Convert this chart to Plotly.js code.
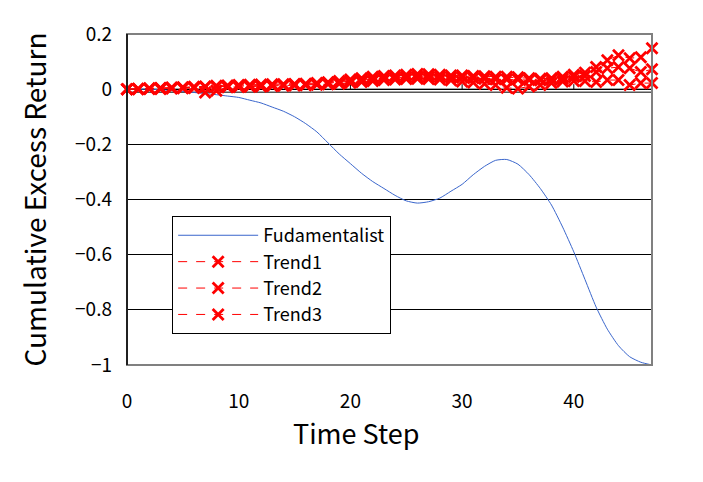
<!DOCTYPE html>
<html>
<head>
<meta charset="utf-8">
<script src="https://cdn.plot.ly/plotly-3.0.1.min.js"></script>
<style>html,body{margin:0;padding:0;background:#fff;}#chart{width:703px;height:482px;}</style>
</head>
<body>
<div id="chart"></div>
<script>
const steps = Array.from({length: 48}, (_, i) => i);
const seriesNames = ["Fudamentalist", "Trend1", "Trend2", "Trend3"];
const fundamentalist = [0, 0, 0, -0.002, -0.005, -0.008, -0.012, -0.016, -0.02, -0.025,
  -0.03, -0.04, -0.05, -0.065, -0.08, -0.1, -0.125, -0.155, -0.195, -0.235,
  -0.27, -0.305, -0.335, -0.36, -0.385, -0.405, -0.413, -0.408, -0.395, -0.37,
  -0.345, -0.31, -0.28, -0.258, -0.255, -0.272, -0.31, -0.36, -0.42, -0.5,
  -0.59, -0.69, -0.79, -0.87, -0.93, -0.97, -0.99, -1.0];
const trend1 = [0, 0.002, 0.003, 0.004, 0.006, 0.007, 0.009, 0.01, 0.012, 0.013,
  0.015, 0.016, 0.017, 0.018, 0.018, 0.019, 0.02, 0.022, 0.025, 0.03,
  0.035, 0.04, 0.045, 0.048, 0.05, 0.052, 0.055, 0.054, 0.052, 0.05,
  0.05, 0.048, 0.047, 0.045, 0.045, 0.043, 0.04, 0.038, 0.04, 0.045,
  0.052, 0.06, 0.08, 0.105, 0.123, 0.112, 0.116, 0.148];
const trend2 = [0, 0.001, 0.002, 0.003, 0.004, 0.005, 0.006, 0.008, 0.009, 0.01,
  0.011, 0.012, 0.013, 0.014, 0.015, 0.016, 0.017, 0.019, 0.022, 0.026,
  0.03, 0.034, 0.038, 0.04, 0.042, 0.044, 0.045, 0.045, 0.044, 0.043,
  0.042, 0.04, 0.038, 0.036, 0.035, 0.035, 0.033, 0.032, 0.034, 0.038,
  0.044, 0.048, 0.062, 0.076, 0.08, 0.076, 0.062, 0.072];
const trend3 = [0, 0, 0.001, 0.001, 0.002, 0.003, 0.004, -0.012, -0.006, 0.007,
  0.008, 0.009, 0.01, 0.011, 0.012, 0.013, 0.014, 0.016, 0.018, 0.02,
  0.023, 0.026, 0.03, 0.033, 0.035, 0.037, 0.038, 0.037, 0.035, 0.032,
  0.028, 0.024, 0.02, 0.015, 0.005, 0.002, 0.01, 0.015, 0.022, 0.028,
  0.03, 0.03, 0.026, 0.033, 0.033, 0.015, 0.022, 0.022];
const xTickVals = [0, 10, 20, 30, 40];
const yTickVals = [0.2, 0, -0.2, -0.4, -0.6, -0.8, -1];

const FONT = "Noto Sans CJK JP, Noto Sans, sans-serif";
const red = "#FF0000";
const trendStyle = {
  mode: "lines+markers",
  line: {color: red, width: 1, dash: "dash"},
  marker: {symbol: "x-thin", size: 11, color: red, line: {color: red, width: 2.8}},
  cliponaxis: false
};
const traces = [
  {x: steps, y: fundamentalist, name: seriesNames[0], mode: "lines",
   line: {color: "#3A66CC", width: 1, shape: "spline", smoothing: 0.6}},
  Object.assign({x: steps, y: trend1, name: seriesNames[1]}, trendStyle),
  Object.assign({x: steps, y: trend2, name: seriesNames[2]}, trendStyle),
  Object.assign({x: steps, y: trend3, name: seriesNames[3]}, trendStyle)
];

const shapes = [
  {type: "rect", xref: "paper", yref: "paper", x0: 0, x1: 1, y0: 0, y1: 1,
   line: {color: "#808080", width: 2}, layer: "above"},
  {type: "line", xref: "paper", yref: "paper", x0: 0, x1: 0, y0: 0, y1: 1,
   line: {color: "#000", width: 1.5}, layer: "above"},
  {type: "line", xref: "paper", yref: "y", x0: 0, x1: 1, y0: 0, y1: 0,
   ysizemode: "pixel", yanchor: 0, line: {color: "#000", width: 1}, layer: "below"},
  {type: "line", xref: "paper", yref: "y", x0: 0, x1: 1, y0: -3, y1: -3,
   ysizemode: "pixel", yanchor: 0, line: {color: "#000", width: 1}, layer: "below"}
];
xTickVals.forEach(v => {
  shapes.push({type: "line", xref: "x", yref: "y", x0: v, x1: v, y0: 0, y1: 5,
    ysizemode: "pixel", yanchor: 0, line: {color: "#000", width: 1}, layer: "below"});
});

const layout = {
  width: 703, height: 482,
  margin: {l: 127, r: 51, t: 34, b: 117},
  paper_bgcolor: "#fff", plot_bgcolor: "#fff",
  showlegend: true,
  font: {family: FONT, color: "#000"},
  xaxis: {
    range: [0, 47], tickvals: xTickVals, ticktext: xTickVals.map(String),
    showgrid: false, zeroline: false, showline: false,
    ticks: "outside", ticklen: 0, ticklabelstandoff: 19,
    tickfont: {family: FONT, size: 19, color: "#000"}
  },
  yaxis: {
    range: [-1, 0.2], tickvals: yTickVals, ticktext: yTickVals.map(v => v === 0 ? "0" : (v < 0 ? "\u2212" + String(-v) : String(v))),
    showgrid: true, gridcolor: "#000", gridwidth: 1, zeroline: false,
    showline: false, ticks: "", ticklabelstandoff: 14,
    tickfont: {family: FONT, size: 19, color: "#000"},
    title: {text: "Cumulative Excess Return", font: {family: FONT, size: 28, color: "#000"}, standoff: 20}
  },
  legend: {
    x: 0.086, y: 0.45, xanchor: "left", yanchor: "top",
    bgcolor: "#fff", bordercolor: "#000", borderwidth: 1,
    font: {family: FONT, size: 18, color: "#000"},
    itemwidth: 80, tracegroupgap: 0,
    entrywidth: 240, entrywidthmode: "pixels"
  },
  annotations: [
    {text: "Time Step", xref: "paper", yref: "paper", x: 0.436, y: 0, yshift: -67,
     xanchor: "center", yanchor: "middle", showarrow: false,
     font: {family: FONT, size: 27, color: "#000"}}
  ],
  shapes: shapes
};

Plotly.newPlot("chart", traces, layout, {displayModeBar: false, staticPlot: true});
</script>
</body>
</html>
